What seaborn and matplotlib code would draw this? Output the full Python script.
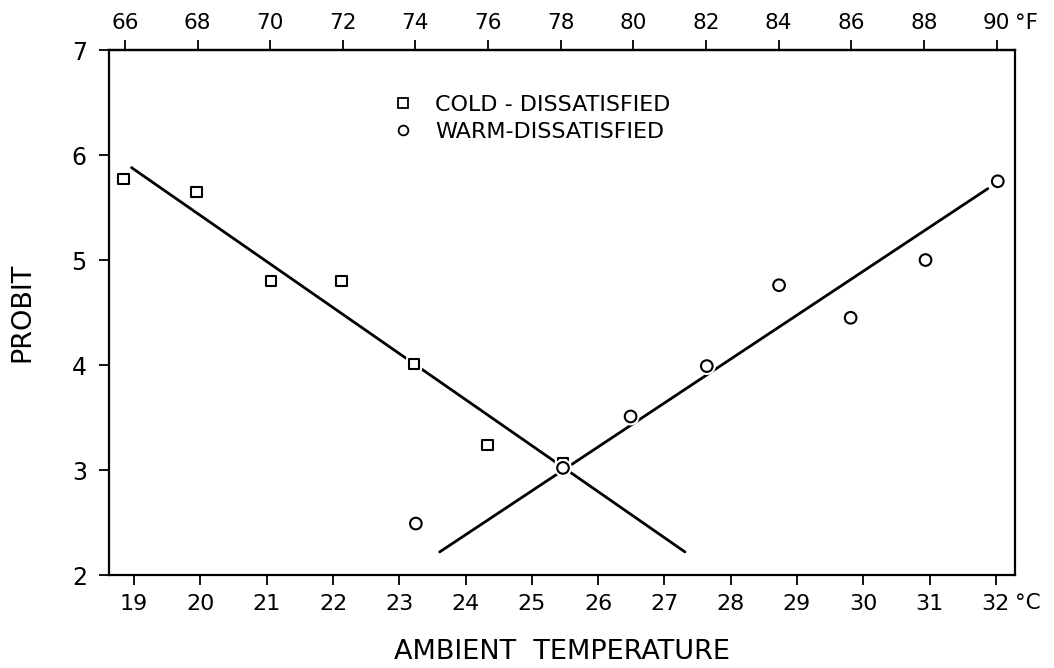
import matplotlib
matplotlib.use("Agg")
import matplotlib.pyplot as plt
import matplotlib.patheffects as pe
from matplotlib.lines import Line2D
import seaborn as sns

# measured points (deg C, probit)
cold_temp = [18.84, 19.94, 21.06, 22.13, 23.22, 24.33, 25.47]
cold_probit = [5.77, 5.65, 4.80, 4.80, 4.01, 3.24, 3.07]
warm_temp = [23.25, 25.47, 26.49, 27.64, 28.73, 29.81, 30.94, 32.03]
warm_probit = [2.49, 3.02, 3.51, 3.99, 4.76, 4.45, 5.00, 5.75]

# fitted lines, end points
cold_fit_temp = [18.96, 27.31]
cold_fit_probit = [5.88, 2.22]
warm_fit_temp = [23.61, 31.88]
warm_fit_probit = [2.22, 5.68]

c_ticks = list(range(19, 33))
f_ticks = list(range(66, 91, 2))
probit_ticks = [2, 3, 4, 5, 6, 7]


# the printed F scale is a little compressed against the C scale
def f_to_c(f):
    return 18.86 + (f - 66) * 0.548


def c_to_f(c):
    return 66 + (c - 18.86) / 0.548


sns.set_style("ticks")
plt.rcParams["font.family"] = ["DejaVu Sans"]
plt.rcParams["axes.linewidth"] = 1.6
plt.rcParams["axes.edgecolor"] = "black"
plt.rcParams["text.color"] = "black"
plt.rcParams["axes.labelcolor"] = "black"
plt.rcParams["xtick.color"] = "black"
plt.rcParams["ytick.color"] = "black"

fig = plt.figure(figsize=(10.54, 6.68), dpi=100)
ax = fig.add_axes([0.1034, 0.1392, 0.8596, 0.7859])

halo = [pe.withStroke(linewidth=4.5, foreground="white")]

sns.lineplot(x=cold_fit_temp, y=cold_fit_probit, color="black", linewidth=2.0, ax=ax)
sns.lineplot(x=warm_fit_temp, y=warm_fit_probit, color="black", linewidth=2.0, ax=ax)

sns.scatterplot(x=cold_temp, y=cold_probit, marker="s", s=55, facecolor="white",
                edgecolor="black", linewidth=1.5, zorder=3, path_effects=halo, ax=ax)
sns.scatterplot(x=warm_temp, y=warm_probit, marker="o", s=70, facecolor="white",
                edgecolor="black", linewidth=1.5, zorder=3, path_effects=halo, ax=ax)

ax.set_xlim(18.62, 32.29)
ax.set_ylim(2, 7)
ax.set_xticks(c_ticks)
ax.set_yticks(probit_ticks)
ax.tick_params(axis="x", direction="out", length=7, width=1.3, pad=7, labelsize=16)
ax.tick_params(axis="y", direction="out", length=7, width=1.3, pad=9, labelsize=17)

sec = ax.secondary_xaxis("top", functions=(c_to_f, f_to_c))
sec.set_xticks(f_ticks)
sec.tick_params(direction="out", length=7, width=1.3, pad=5, labelsize=15.5)
sec.spines["top"].set_linewidth(1.6)

ax.set_xlabel("AMBIENT  TEMPERATURE", fontsize=19.5, labelpad=18)
ax.set_ylabel("PROBIT", fontsize=19.5, labelpad=26)

fig.text(1015 / 1054, 1 - 603 / 668, "°C", fontsize=15.5, ha="left", va="center")
fig.text(1015 / 1054, 1 - 23 / 668, "°F", fontsize=15.5, ha="left", va="center")

handles = [
    Line2D([], [], marker="s", linestyle="none", markersize=6.5, markerfacecolor="white",
           markeredgecolor="black", markeredgewidth=1.3),
    Line2D([], [], marker="o", linestyle="none", markersize=7, markerfacecolor="white",
           markeredgecolor="black", markeredgewidth=1.3),
]
ax.legend(handles, ["COLD - DISSATISFIED", "WARM-DISSATISFIED"], frameon=False,
          loc="upper left", bbox_to_anchor=(0.312, 0.914), borderpad=0, borderaxespad=0,
          handlelength=1.0, handletextpad=0.95, labelspacing=0.3, fontsize=16)

fig.savefig("out.png", dpi=100)
